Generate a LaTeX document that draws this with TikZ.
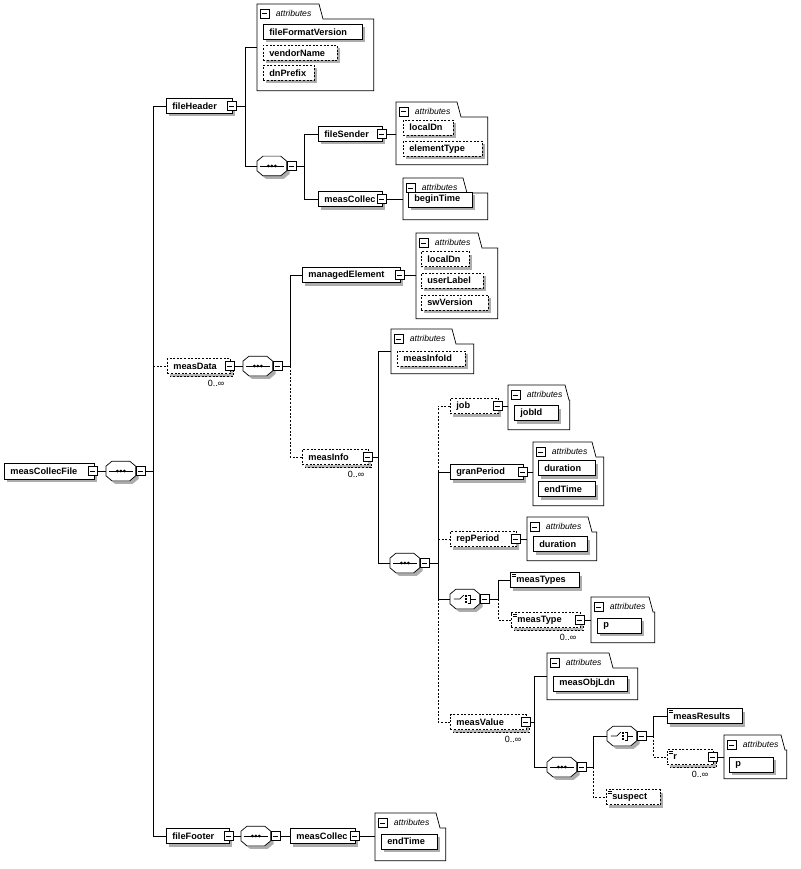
\documentclass[tikz,border=0pt]{standalone}
\usepackage{fontspec}
\setmainfont{Liberation Sans}
\usetikzlibrary{positioning,calc}

\newcommand{\elfont}{\fontsize{9.2}{11}\selectfont\bfseries}
\newcommand{\atfont}{\fontsize{8.6}{10}\selectfont\itshape}
\newcommand{\occfont}{\fontsize{9}{10}\selectfont}
% octagon of a compositor: #1 path options, #2 node, #3 offset
\newcommand{\octo}[3]{\path[#1]
  ([xshift=#3+6pt,yshift=-#3]#2.north west) -- ([xshift=#3-6pt,yshift=-#3]#2.north east)
  -- ([xshift=#3,yshift=-#3-5pt]#2.north east) -- ([xshift=#3,yshift=-#3+5pt]#2.south east)
  -- ([xshift=#3-6pt,yshift=-#3]#2.south east) -- ([xshift=#3+6pt,yshift=-#3]#2.south west)
  -- ([xshift=#3,yshift=-#3+5pt]#2.south west) -- ([xshift=#3,yshift=-#3-5pt]#2.north west) -- cycle;}
% box with its shadow: #1 style, #2 name, #3 x, #4 y, #5 width, #6 text
\newcommand{\elem}[6]{%
  \fill[black!32] (#3+3,#4-4.5) rectangle (#3+#5+3,#4+10.5);
  \node[#1=#5] (#2) at (#3,#4) {#6};}
% repeated box: second dashed frame behind
\newcommand{\manyel}[6]{%
  \filldraw[fill=black!28,dash pattern=on 2pt off 1.6pt] (#3+3,#4-4.5) rectangle (#3+#5+3,#4+10.5);
  \node[#1=#5] (#2) at (#3,#4) {#6};}

\begin{document}
\begin{tikzpicture}[x=1pt,y=-1pt,line width=0.7pt,
    dsh/.style    = {dash pattern=on 2pt off 1.6pt},
    elbox/.style  = {draw,fill=white,anchor=west,font=\elfont,inner xsep=6pt,inner ysep=0pt,
                     minimum height=15,minimum width=#1,text width={(#1-12)*1pt},align=left},
    optbox/.style = {elbox=#1,dsh},
    txtbox/.style = {elbox=#1,txt},
    opttxt/.style = {elbox=#1,dsh,txt},
    txt/.style    = {path picture={\foreach \d in {2,4}{
                       \draw[line width=0.5pt,solid] ([xshift=2pt,yshift=-\d pt]path picture bounding box.north west) -- ++(4pt,0pt);}}},
    minus/.style  = {draw,fill=white,solid,minimum width=9,minimum height=9,inner sep=0pt,line width=0.6pt,
                     path picture={\draw[line width=0.6pt] ([xshift=2pt]path picture bounding box.west)
                       -- ([xshift=-2pt]path picture bounding box.east);}},
    compo/.style  = {anchor=west,minimum width=29,minimum height=19,inner sep=0pt},
    attrframe/.style = {anchor=north west,inner sep=0pt},
    attrlbl/.style   = {font=\atfont,inner sep=0pt,anchor=west},
    occ/.style       = {font=\occfont,inner sep=0pt,anchor=north east},
  ]

  \fill[white] (0,0) rectangle (800,869);
  \useasboundingbox (0,0) rectangle (800,869);

  % attribute folders
  \foreach \nm/\ax/\ay/\aw/\ah/\tb in {hdrAttr/257/4/116/86/62, fsAttr/396/102/91/62/61,
      mcAttr/403/178/84/41/60, meAttr/416/233/81/85/62, miAttr/391/329/82/44/61,
      jobAttr/508/385/61/44/57, gpAttr/533/442/70/63/59, rpAttr/527/517/69/43/61,
      mtAttr/591/597/63/45/58, mvAttr/547/653/90/46/62, rAttr/724/735/62/43/57,
      mfAttr/375/813/70/47/61}{
    \node[attrframe,minimum width=\aw,minimum height=\ah] (\nm) at (\ax,\ay) {};
    \draw[fill=white] (\nm.north west) -- ++(\tb,0) -- ++(4,15) -- ([yshift=-15pt]\nm.north east)
      -- (\nm.south east) -- (\nm.south west) -- cycle;
    \node[minus,anchor=north west] (\nm-i) at ([xshift=3pt,yshift=-5pt]\nm.north west) {};
    \node[attrlbl] (\nm-l) at ([xshift=6pt]\nm-i.east) {attributes};
  }

  % attributes
  \elem{elbox}{fileFormatVersion}{263}{32}{99}{fileFormatVersion}
  \elem{optbox}{vendorName}{263}{53}{74}{vendorName}
  \elem{optbox}{dnPrefix}{263}{73}{51}{dnPrefix}
  \elem{optbox}{fsLocalDn}{403}{127.5}{50}{localDn}
  \elem{optbox}{elementType}{403}{149}{79}{elementType}
  \elem{elbox}{beginTime}{408}{199.5}{64}{beginTime}
  \elem{optbox}{meLocalDn}{421}{259}{48}{localDn}
  \elem{optbox}{userLabel}{421}{280.5}{62}{userLabel}
  \elem{optbox}{swVersion}{421}{302.5}{67}{swVersion}
  \elem{optbox}{measInfoId}{397}{358.5}{68}{measInfoId}
  \elem{elbox}{jobId}{514}{413}{44}{jobId}
  \elem{elbox}{gpDuration}{538}{468}{57}{duration}
  \elem{elbox}{gpEndTime}{538}{489}{57}{endTime}
  \elem{elbox}{rpDuration}{533}{544}{54}{duration}
  \elem{elbox}{mtP}{597}{625.5}{44}{p}
  \elem{elbox}{measObjLdn}{553}{683.5}{74}{measObjLdn}
  \elem{elbox}{rP}{729}{764.5}{44}{p}
  \elem{elbox}{ftrEndTime}{381}{841.5}{56}{endTime}

  % root
  \fill[black!32] (7,466) rectangle (97,482);
  \node[elbox=90,minimum height=16] (root) at (4,471) {measCollecFile};
  \node[minus] (root-i) at ([xshift=-2pt]root.east) {};
  \node[compo] (seqRoot) at (106,471) {};

  % header
  \elem{elbox}{fileHeader}{166}{106}{66}{fileHeader}
  \node[minus] (fileHeader-i) at ([xshift=-1pt]fileHeader.east) {};
  \node[compo] (seqHdr) at (257,166) {};
  \elem{elbox}{fileSender}{318}{134}{64}{fileSender}
  \node[minus] (fileSender-i) at ([xshift=-1pt]fileSender.east) {};
  \elem{elbox}{hdrCollec}{318}{199}{64}{measCollec}
  \node[minus] (hdrCollec-i) at ([xshift=-1pt]hdrCollec.east) {};

  % data
  \manyel{optbox}{measData}{167}{366}{63}{measData}
  \node[minus] (measData-i) at ([xshift=-1pt]measData.east) {};
  \node[occ] (measData-o) at ([xshift=-5pt,yshift=-9pt]measData-i.south) {0..∞};
  \node[compo] (seqData) at (243,366) {};
  \elem{elbox}{managedElement}{302}{275}{98}{managedElement}
  \node[minus] (managedElement-i) at ([xshift=-1pt]managedElement.east) {};
  \manyel{optbox}{measInfo}{302}{457}{66}{measInfo}
  \node[minus] (measInfo-i) at ([xshift=-1pt]measInfo.east) {};
  \node[occ] (measInfo-o) at ([xshift=-3pt,yshift=-9pt]measInfo-i.south) {0..∞};
  \node[compo] (seqInfo) at (390,563) {};

  \elem{optbox}{job}{450}{406}{48}{job}
  \node[minus] (job-i) at ([xshift=-1pt]job.east) {};
  \elem{elbox}{granPeriod}{450}{472}{73}{granPeriod}
  \node[minus] (granPeriod-i) at ([xshift=-1pt]granPeriod.east) {};
  \elem{optbox}{repPeriod}{450}{539}{66}{repPeriod}
  \node[minus] (repPeriod-i) at ([xshift=-1pt]repPeriod.east) {};
  \node[compo] (choiceTypes) at (450,599) {};
  \elem{txtbox}{measTypes}{510}{580}{69}{measTypes}
  \manyel{opttxt}{measType}{511}{620}{69}{measType}
  \node[minus] (measType-i) at ([xshift=-1pt]measType.east) {};
  \node[occ] (measType-o) at ([xshift=-3pt,yshift=-9pt]measType-i.south) {0..∞};

  \manyel{optbox}{measValue}{450}{722}{76}{measValue}
  \node[minus] (measValue-i) at ([xshift=-1pt]measValue.east) {};
  \node[occ] (measValue-o) at ([xshift=-4pt,yshift=-9pt]measValue-i.south) {0..∞};
  \node[compo] (seqValue) at (547,767) {};
  \node[compo] (choiceResults) at (607,736) {};
  \elem{txtbox}{measResults}{667}{716}{75}{measResults}
  \manyel{opttxt}{r}{667}{757}{46}{r}
  \node[minus] (r-i) at ([xshift=-1pt]r.east) {};
  \node[occ] (r-o) at ([xshift=-4pt,yshift=-9pt]r-i.south) {0..∞};
  \elem{opttxt}{suspect}{606}{797}{54}{suspect}

  % footer
  \elem{elbox}{fileFooter}{166}{836}{63}{fileFooter}
  \node[minus] (fileFooter-i) at ([xshift=-1pt]fileFooter.east) {};
  \node[compo] (seqFtr) at (241,836) {};
  \elem{elbox}{ftrCollec}{290}{836}{65}{measCollec}
  \node[minus] (ftrCollec-i) at ([xshift=-1pt]ftrCollec.east) {};

  % compositors
  \foreach \c in {seqRoot,seqHdr,seqData,seqInfo,choiceTypes,seqValue,choiceResults,seqFtr}{
    \octo{fill=black!32}{\c}{3pt}
    \octo{draw,fill=white}{\c}{0pt}
    \node[minus,anchor=west] (\c-i) at (\c.east) {};
  }
  \foreach \c in {seqRoot,seqHdr,seqData,seqInfo,seqValue,seqFtr}{
    \draw ([xshift=3pt]\c.west) -- ([xshift=-3pt]\c.east);
    \foreach \d in {-3.5,0,3.5}
      \fill ([xshift=\d pt]\c.center) circle (1.5pt);
  }
  \foreach \c in {choiceTypes,choiceResults}{
    \draw ([xshift=-11pt]\c.center) -- ([xshift=-5pt]\c.center) -- ([xshift=-1pt,yshift=4pt]\c.center);
    \foreach \d in {-4,-1,2}
      \fill ([xshift=0.5pt,yshift=\d pt]\c.center) rectangle ++(1.6pt,1.6pt);
    \draw ([xshift=3pt,yshift=4pt]\c.center) -- ++(2pt,0pt) -- ++(0pt,-8pt) -- ++(-2pt,0pt)
      ([xshift=5pt]\c.center) -- ([xshift=11pt]\c.center);
  }

  % bus lines
  \coordinate (b0) at (153,0);
  \coordinate (b1) at (245,0);
  \coordinate (b2) at (304,0);
  \coordinate (b3) at (290,0);
  \coordinate (b4) at (378,0);
  \coordinate (b5) at (438,0);
  \coordinate (b6) at (498,0);
  \coordinate (b7) at (534,0);
  \coordinate (b8) at (593,0);
  \coordinate (b9) at (653,0);

  \draw (root-i.east) -- (seqRoot.west);
  \draw (seqRoot-i.east) -- (b0 |- seqRoot-i);
  \draw (fileHeader.west) -| (b0 |- fileFooter) -- (fileFooter.west);
  \draw[dsh] (b0 |- measData) -- (measData.west);

  \draw (fileHeader-i.east) -- (b1 |- fileHeader-i);
  \draw (hdrAttr.west) -| (b1 |- seqHdr) -- (seqHdr.west);
  \draw (seqHdr-i.east) -- (b2 |- seqHdr-i);
  \draw (fileSender.west) -| (b2 |- hdrCollec) -- (hdrCollec.west);
  \draw (fileSender-i.east) -- (fsAttr.west |- fileSender-i);
  \draw (hdrCollec-i.east) -- (mcAttr.west |- hdrCollec-i);

  \draw (measData-i.east) -- (seqData.west);
  \draw (seqData-i.east) -- (b3 |- seqData-i);
  \draw (managedElement.west) -| (b3 |- seqData);
  \draw[dsh] (b3 |- seqData) |- (measInfo.west);
  \draw (managedElement-i.east) -- (meAttr.west |- managedElement-i);

  \draw (measInfo-i.east) -- (b4 |- measInfo-i);
  \draw (miAttr.west) -| (b4 |- seqInfo) -- (seqInfo.west);
  \draw (seqInfo-i.east) -- (b5 |- seqInfo-i);
  \draw[dsh] (job.west) -| (b5 |- granPeriod);
  \draw (granPeriod.west) -| (b5 |- choiceTypes) -- (choiceTypes.west);
  \draw[dsh] (b5 |- repPeriod) -- (repPeriod.west);
  \draw[dsh] (b5 |- choiceTypes) |- (measValue.west);
  \draw (job-i.east) -- (jobAttr.west |- job-i);
  \draw (granPeriod-i.east) -- (gpAttr.west |- granPeriod-i);
  \draw (repPeriod-i.east) -- (rpAttr.west |- repPeriod-i);

  \draw (choiceTypes-i.east) -- (b6 |- choiceTypes-i);
  \draw (measTypes.west) -| (b6 |- choiceTypes);
  \draw[dsh] (b6 |- choiceTypes) |- (measType.west);
  \draw (measType-i.east) -- (mtAttr.west |- measType-i);

  \draw (measValue-i.east) -- (b7 |- measValue-i);
  \draw (mvAttr.west) -| (b7 |- seqValue) -- (seqValue.west);
  \draw (seqValue-i.east) -- (b8 |- seqValue-i);
  \draw (choiceResults.west) -| (b8 |- seqValue);
  \draw[dsh] (b8 |- seqValue) |- (suspect.west);
  \draw (choiceResults-i.east) -- (b9 |- choiceResults-i);
  \draw (measResults.west) -| (b9 |- choiceResults);
  \draw[dsh] (b9 |- choiceResults) |- (r.west);
  \draw (r-i.east) -- (rAttr.west |- r-i);

  \draw (fileFooter-i.east) -- (seqFtr.west);
  \draw (seqFtr-i.east) -- (ftrCollec.west);
  \draw (ftrCollec-i.east) -- (mfAttr.west |- ftrCollec-i);

\end{tikzpicture}
\end{document}
